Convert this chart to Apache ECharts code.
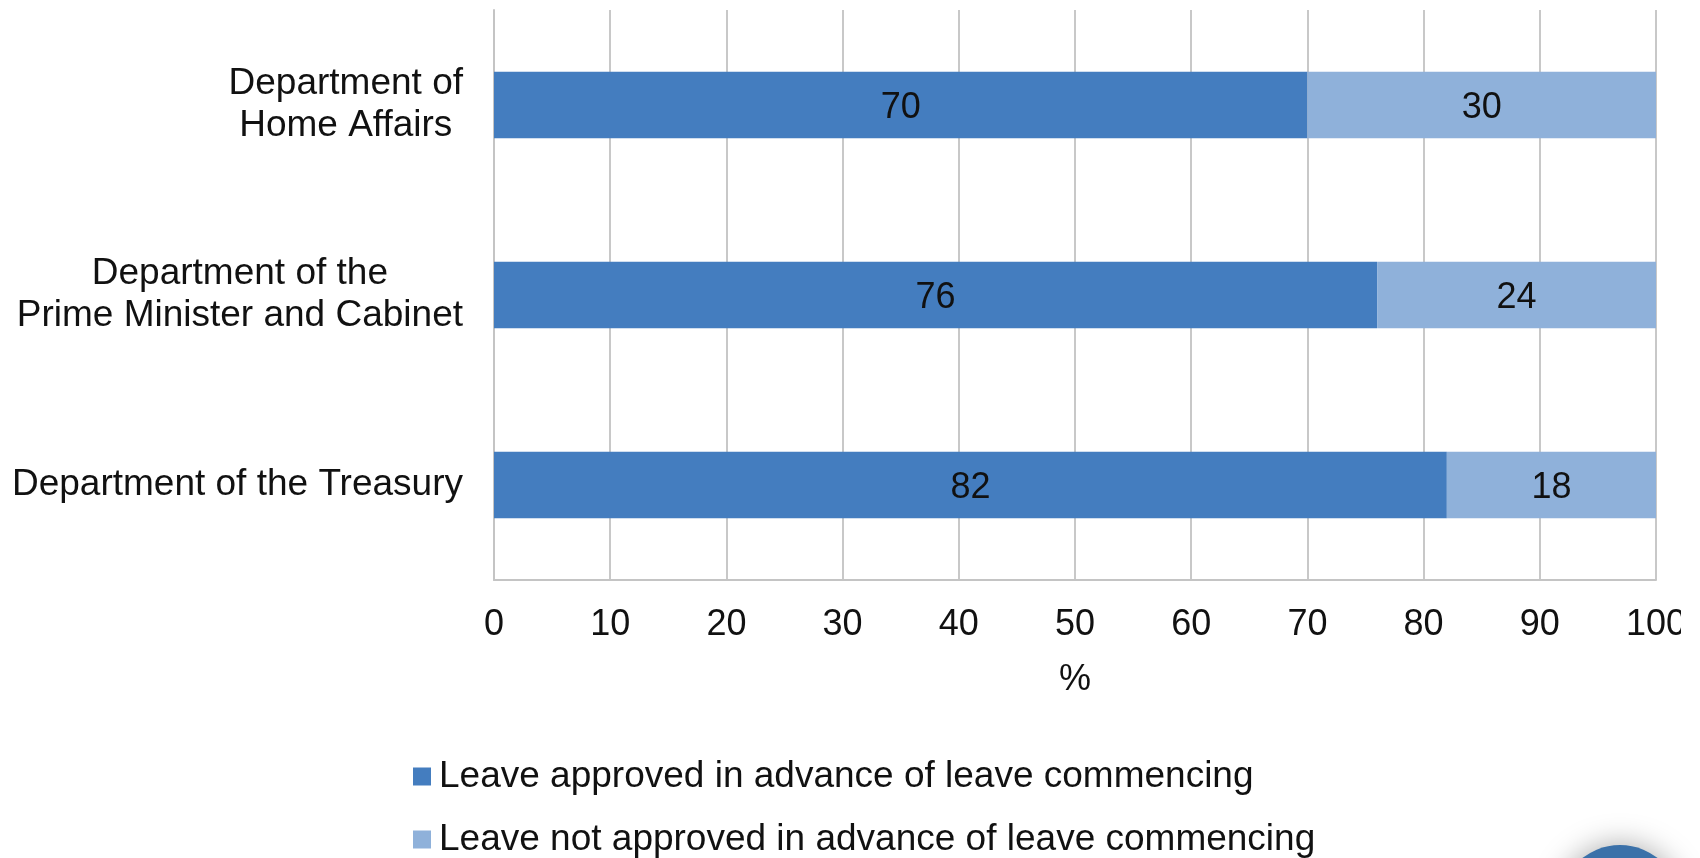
<!DOCTYPE html>
<html>
<head>
<meta charset="utf-8">
<style>
html,body{margin:0;padding:0;background:#fff;}
#chart{width:1700px;height:858px;}
</style>
<script src="https://cdn.jsdelivr.net/npm/echarts@6/dist/echarts.min.js"></script>
</head>
<body>
<div id="chart"></div>
<script>
const categories = [
  "Department of the Treasury",
  "Department of the\nPrime Minister and Cabinet",
  "Department of\nHome Affairs"
];
const seriesNames = [
  "Leave approved in advance of leave commencing",
  "Leave not approved in advance of leave commencing"
];
const approved = [82, 76, 70];
const notApproved = [18, 24, 30];
const xTicks = [0, 10, 20, 30, 40, 50, 60, 70, 80, 90, 100];

const FONT = "'Liberation Sans', Arial, sans-serif";
const chart = echarts.init(document.getElementById('chart'));
chart.setOption({
  animation: false,
  backgroundColor: '#ffffff',
  textStyle: { fontFamily: FONT },
  grid: { left: 494, right: 44, top: 10, bottom: 278, containLabel: false },
  legend: {
    orient: 'vertical',
    left: 413,
    top: 758,
    width: 1200,
    height: 200,
    padding: 0,
    itemWidth: 18,
    itemHeight: 18,
    itemGap: 26,
    icon: 'rect',
    data: seriesNames,
    textStyle: { fontSize: 37, color: '#111', lineHeight: 30, fontFamily: FONT, padding: [0, 0, 0, 3] }
  },
  xAxis: {
    type: 'value',
    min: xTicks[0],
    max: xTicks[xTicks.length - 1],
    interval: 10,
    name: '%',
    nameLocation: 'middle',
    nameGap: 82,
    nameTextStyle: { fontSize: 36, color: '#111', fontFamily: FONT, lineHeight: 36 },
    axisLine: { show: true, lineStyle: { color: '#c4c4c4', width: 2 } },
    axisTick: { show: false },
    splitLine: { show: true, lineStyle: { color: '#c8c8c8', width: 2 } },
    axisLabel: { fontSize: 36, color: '#111', margin: 27, lineHeight: 36, fontFamily: FONT }
  },
  yAxis: {
    type: 'category',
    data: categories,
    axisLine: { show: true, lineStyle: { color: '#c4c4c4', width: 2 } },
    axisTick: { show: false },
    axisLabel: {
      margin: 31,
      fontSize: 37,
      color: '#111',
      lineHeight: 42,
      fontFamily: FONT,
      formatter: function (v) {
        return v.split('\n').map(function (s) { return '{c|' + s + '}'; }).join('\n');
      },
      rich: { c: { align: 'center', fontSize: 37, lineHeight: 42, color: '#111', fontFamily: FONT } }
    }
  },
  series: [
    {
      name: seriesNames[0],
      type: 'bar',
      stack: 'total',
      data: approved,
      barWidth: '35%',
      itemStyle: { color: '#447dbf' },
      label: { show: true, position: 'inside', offset: [0, 3], fontSize: 36, color: '#111', fontFamily: FONT }
    },
    {
      name: seriesNames[1],
      type: 'bar',
      stack: 'total',
      data: notApproved,
      barWidth: '35%',
      itemStyle: { color: '#8fb1da' },
      label: { show: true, position: 'inside', offset: [0, 3], fontSize: 36, color: '#111', fontFamily: FONT }
    }
  ],
  graphic: [
    {
      type: 'rect',
      shape: { x: 1681, y: 590, width: 19, height: 70 },
      style: { fill: '#ffffff' },
      z: 100
    },
    {
      type: 'circle',
      shape: { cx: 1620, cy: 906, r: 61 },
      style: { fill: '#3b71a9', shadowBlur: 30, shadowColor: 'rgba(0,0,0,0.35)' },
      z: 100
    }
  ]
});
</script>
</body>
</html>
